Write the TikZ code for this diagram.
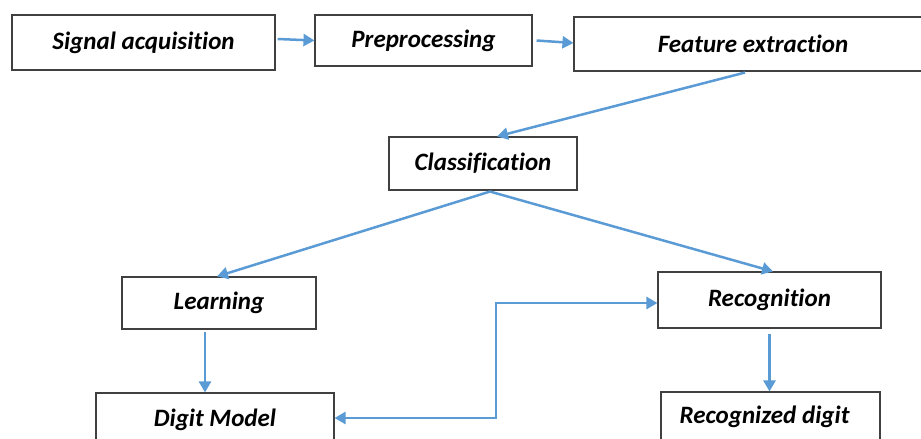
\documentclass[tikz,border=0pt]{standalone}
\usepackage{fontspec}
\setmainfont{Carlito}[Ligatures=NoCommon]
\usetikzlibrary{arrows.meta}
\definecolor{arrowblue}{RGB}{91,155,213}
\begin{document}
\begin{tikzpicture}[x=1pt,y=-1pt,
  box/.style={draw=black!75, line width=1.1pt, rectangle, inner sep=0pt,
    font=\fontsize{25}{29}\selectfont\bfseries\itshape},
  arr/.style={draw=arrowblue, line width=2.5pt, -{Triangle[length=11pt,width=12pt]}},
  arrboth/.style={draw=arrowblue, line width=2.5pt,
    {Triangle[length=11pt,width=12pt]}-{Triangle[length=11pt,width=12pt]}}]
\useasboundingbox (0,0) rectangle (921,439);
\clip (0,0) rectangle (921,439);
\node[box, minimum width=263pt, minimum height=55pt] (sig) at (143.5,42.5) {Signal acquisition};
\node[box, minimum width=217pt, minimum height=51pt] (pre) at (423.5,40.5) {Preprocessing};
\node[box, minimum width=358pt, minimum height=54pt] (fea) at (753,44) {Feature extraction};
\node[box, minimum width=188pt, minimum height=53pt] (cls) at (483,163.5) {Classification};
\node[box, minimum width=194pt, minimum height=52pt] (lrn) at (219,303) {Learning};
\node[box, minimum width=223pt, minimum height=56pt] (rcg) at (769.5,300) {Recognition};
\node[box, minimum width=238pt, minimum height=54pt] (dgm) at (215,420) {Digit Model};
\node[box, minimum width=219pt, minimum height=50pt] (rdg) at (770.5,417) {\hspace*{-12pt}Recognized digit};

\draw[arr] ([xshift=2pt,yshift=3.5pt]sig.east) -- ([yshift=0pt]pre.west);
\draw[arr] ([xshift=4pt]pre.east) -- ([yshift=1pt]fea.west);
\draw[arr] ([xshift=-8pt,yshift=-1pt]fea.south) -- ([xshift=14pt]cls.north);
\draw[arr] ([xshift=7pt,yshift=-1pt]cls.south) -- ([xshift=-2pt]lrn.north);
\draw[arr] ([xshift=7pt,yshift=-1pt]cls.south) -- ([xshift=3.5pt]rcg.north);
\draw[arr] ([xshift=-14pt,yshift=-2pt]lrn.south) -- ([xshift=-10pt]dgm.north);
\draw[arr] ([yshift=-5pt]rcg.south) -- ([xshift=-1pt]rdg.north);

\coordinate (bend) at (496,0);
\coordinate (din) at ([yshift=2pt]dgm.east);
\coordinate (rin) at ([yshift=-3pt]rcg.west);
\draw[arrboth] (din) -- (din -| bend) -- (rin -| bend) -- (rin);
\end{tikzpicture}
\end{document}
